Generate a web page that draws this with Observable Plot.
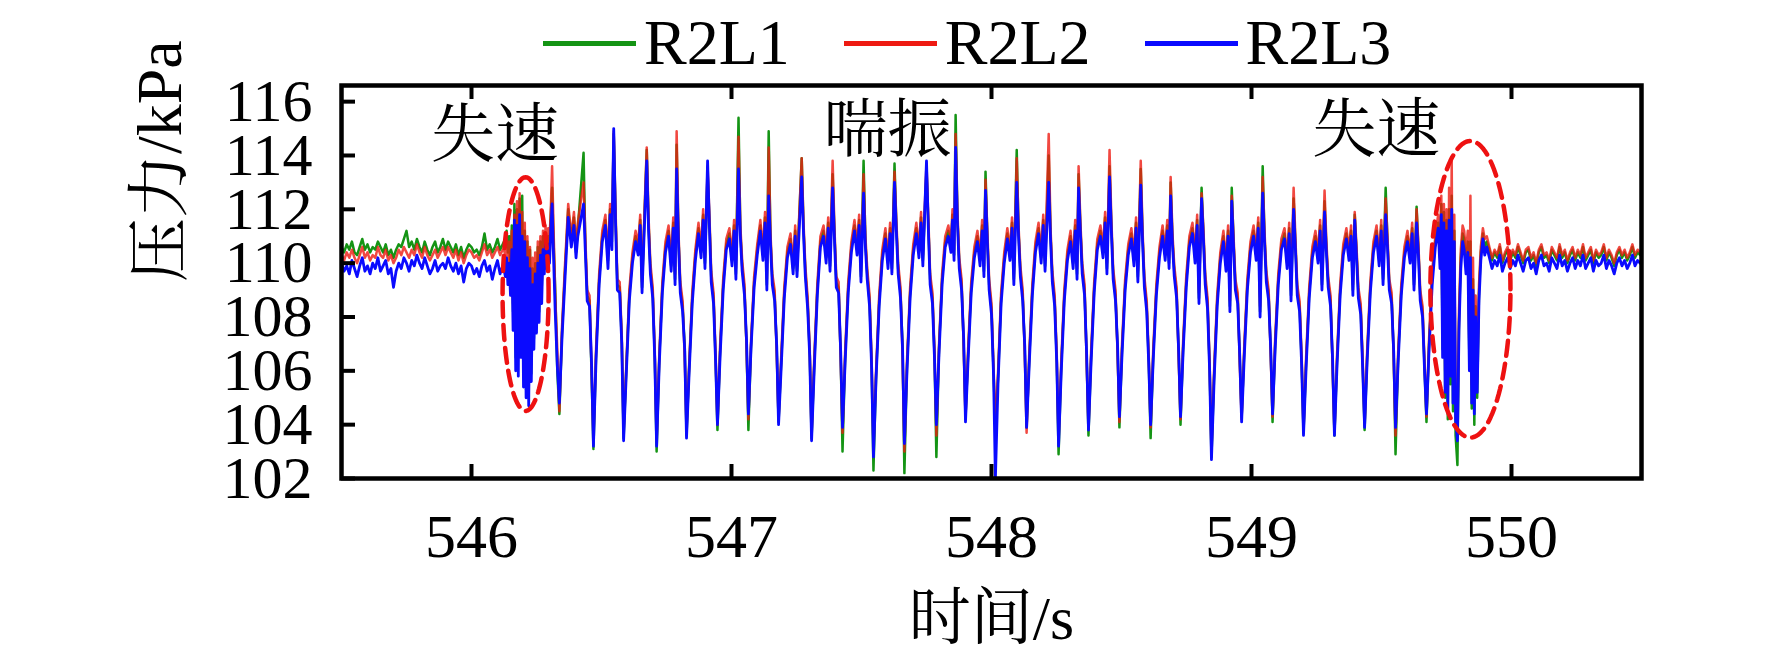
<!DOCTYPE html>
<html>
<head>
<meta charset="utf-8">
<script src="https://cdn.jsdelivr.net/npm/d3@7"></script>
<script src="https://cdn.jsdelivr.net/npm/@observablehq/plot@0.6"></script>
<style>
  html, body { margin: 0; padding: 0; background: #fff; }
  body { width: 1772px; height: 664px; overflow: hidden; font-family: 'Liberation Serif', 'Times New Roman', 'Noto Serif CJK SC', 'Noto Sans CJK SC', serif; }
  #legend { position: relative; height: 78px; }
  #legend .row { position: absolute; left: 543px; top: 11px; height: 64px; display: flex; align-items: center; line-height: 64px; font-size: 64px; }
  #legend .sw { display: inline-block; width: 93px; height: 5px; margin-right: 8px; }
  #legend .lab { margin-right: 54px; }
  #chart svg { overflow: visible; }
</style>
</head>
<body>
<div id="legend"></div>
<div id="chart"></div>
<script>
// ---- series names / colours ----
const seriesNames = ["R2L1", "R2L2", "R2L3"];
const seriesColors = ["#149414", "#ee1a12", "#0a0aff"];

// ---- axis ticks ----
const xTicks = [546, 547, 548, 549, 550];
const yTicks = [102, 104, 106, 108, 110, 112, 114, 116];

// ---- annotations ----
const noteText = ["失速", "喘振", "失速"];
const noteX = [546.09, 547.60, 549.48];
const noteY = [114.73, 114.91, 114.91];

// stall ellipses: centre and half-axes (data units)
const ellCx = [546.208, 549.842];
const ellCy = [108.85, 109.03];
const ellRx = [0.0885, 0.154];
const ellRy = [4.34, 5.51];

// ---- time (s) ----
const time = [
// pre-stall baseline
545.50,545.51,545.52,545.53,545.54,545.55,545.56,545.57,545.58,545.59,
545.60,545.61,545.62,545.63,545.64,545.65,545.66,545.67,545.68,545.69,
545.70,545.71,545.72,545.73,545.74,545.75,545.76,545.77,545.78,545.79,
545.80,545.81,545.82,545.83,545.84,545.85,545.86,545.87,545.88,545.89,
545.90,545.91,545.92,545.93,545.94,545.95,545.96,545.97,545.98,545.99,
546.00,546.01,546.02,546.03,546.04,546.05,546.06,546.07,546.08,546.09,
546.10,546.11,546.12,
// left stall
546.125,546.130,546.135,546.140,546.145,546.150,546.155,546.160,546.165,546.170,
546.175,546.180,546.185,546.190,546.195,546.200,546.205,546.210,546.215,546.220,
546.225,546.230,546.235,546.240,546.245,546.250,546.255,546.260,546.265,546.270,
546.275,546.280,546.285,546.290,546.295,546.300,546.305,546.310,546.315,546.322,
546.330,
// surge cycles
546.338,546.348,546.360,546.372,546.384,546.394,546.402,546.409,546.431,546.438,546.445,546.454,546.462,
546.469,546.479,546.491,546.503,546.515,546.525,546.533,546.540,546.547,546.554,546.561,546.570,546.578,
546.585,546.595,546.607,546.619,546.631,546.641,546.649,546.656,546.674,546.681,546.688,546.697,546.705,
546.712,546.722,546.734,546.746,546.758,546.768,546.776,546.783,546.789,546.796,546.803,546.812,546.820,
546.827,546.837,546.849,546.861,546.873,546.883,546.891,546.898,546.908,546.915,546.922,546.931,546.939,
546.946,546.956,546.968,546.980,546.992,547.002,547.010,547.017,547.027,547.034,547.041,547.050,547.058,
547.065,547.075,547.087,547.099,547.111,547.121,547.129,547.136,547.143,547.150,547.157,547.166,547.174,
547.181,547.191,547.203,547.215,547.227,547.237,547.245,547.252,547.270,547.277,547.284,547.293,547.301,
547.308,547.318,547.330,547.342,547.354,547.364,547.372,547.379,547.389,547.396,547.403,547.412,547.420,
547.427,547.437,547.449,547.461,547.473,547.483,547.491,547.498,547.508,547.515,547.522,547.531,547.539,
547.546,547.556,547.568,547.580,547.592,547.602,547.610,547.617,547.627,547.634,547.641,547.650,547.658,
547.665,547.675,547.687,547.699,547.711,547.721,547.729,547.736,547.750,547.757,547.764,547.773,547.781,
547.788,547.798,547.810,547.822,547.834,547.844,547.850,547.856,547.862,547.869,547.876,547.885,547.893,
547.900,547.910,547.922,547.934,547.946,547.956,547.964,547.971,547.977,547.984,547.991,548.000,548.008,
548.015,548.025,548.037,548.049,548.061,548.071,548.079,548.086,548.097,548.104,548.111,548.120,548.128,
548.135,548.145,548.157,548.169,548.181,548.191,548.199,548.206,548.220,548.227,548.234,548.243,548.251,
548.258,548.268,548.280,548.292,548.304,548.314,548.322,548.329,548.335,548.342,548.349,548.358,548.366,
548.373,548.383,548.395,548.407,548.419,548.429,548.437,548.444,548.454,548.461,548.468,548.477,548.485,
548.492,548.502,548.514,548.526,548.538,548.548,548.556,548.563,548.574,548.581,548.588,548.597,548.605,
548.612,548.622,548.634,548.646,548.658,548.668,548.676,548.683,548.689,548.696,548.703,548.712,548.720,
548.727,548.737,548.749,548.761,548.773,548.783,548.791,548.798,548.808,548.815,548.822,548.831,548.839,
548.846,548.856,548.868,548.880,548.892,548.902,548.910,548.917,548.924,548.931,548.938,548.947,548.955,
548.962,548.972,548.984,548.996,549.008,549.018,549.026,549.033,549.043,549.050,549.057,549.066,549.074,
549.081,549.091,549.103,549.115,549.127,549.137,549.145,549.152,549.162,549.169,549.176,549.185,549.193,
549.200,549.210,549.222,549.234,549.246,549.256,549.264,549.271,549.281,549.288,549.295,549.304,549.312,
549.319,549.329,549.341,549.353,549.365,549.375,549.383,549.390,549.397,549.404,549.411,549.420,549.428,
549.435,549.445,549.457,549.469,549.481,549.491,549.499,549.506,549.516,549.523,549.530,549.539,549.547,
549.554,549.564,549.576,549.588,549.600,549.610,549.618,549.625,549.635,549.642,549.649,549.658,549.666,
// right stall
549.673,549.683,549.695,549.707,549.718,549.725,549.730,549.735,549.740,549.745,
549.750,549.755,549.760,549.765,549.770,549.775,549.780,549.785,549.792,549.798,
549.805,549.812,549.818,549.825,549.832,549.838,549.842,549.847,549.852,549.857,
549.862,549.868,549.875,549.882,549.890,549.897,549.905,
// post baseline
549.915,549.925,549.935,549.945,549.955,549.965,549.975,549.985,549.995,550.005,
550.015,550.025,550.035,550.045,550.055,550.065,550.075,550.085,550.095,550.105,
550.115,550.125,550.135,550.145,550.155,550.165,550.175,550.185,550.195,550.205,
550.215,550.225,550.235,550.245,550.255,550.265,550.275,550.285,550.295,550.305,
550.315,550.325,550.335,550.345,550.355,550.365,550.375,550.385,550.395,550.405,
550.415,550.425,550.435,550.445,550.455,550.465,550.475,550.485,550.495
];

// ---- R2L1 (kPa) ----
const r2l1 = [
110.6,110.4,110.7,110.5,110.8,110.4,110.3,110.6,110.9,110.5,
110.7,110.4,110.6,110.5,110.8,110.6,110.4,110.7,110.3,110.5,
110.2,110.5,110.7,110.6,110.9,111.2,110.6,110.8,110.5,110.9,
110.6,110.4,110.8,110.5,110.3,110.6,110.8,110.4,110.6,110.9,
110.5,110.8,110.6,110.4,110.7,110.3,110.6,110.2,110.5,110.7,
110.6,110.4,110.5,110.3,110.6,111.1,110.5,110.7,110.4,110.6,
110.9,110.5,110.7,
110.8,110.6,111.2,110.4,111.0,109.6,111.4,108.2,112.2,106.5,
112.0,107.0,112.4,106.8,112.5,105.8,111.2,105.3,110.8,105.5,
110.5,105.9,109.8,107.2,110.0,107.8,110.6,108.2,110.8,109.0,
111.0,110.0,111.1,110.3,111.0,110.6,111.8,112.8,111.0,109.0,
106.0,
104.4,107.4,109.8,112.0,110.9,111.7,110.4,111.3,114.1,110.6,108.8,108.6,105.8,
103.1,106.6,109.4,111.0,111.6,110.1,112.0,110.8,114.8,111.8,109.2,109.1,107.1,
103.5,106.0,108.8,110.2,111.0,110.5,111.6,109.1,114.2,111.5,109.8,108.9,106.5,
103.0,106.4,109.1,110.6,111.2,109.9,111.5,109.4,114.4,111.0,109.1,108.4,106.9,
103.6,106.1,108.7,110.3,111.3,110.4,111.8,110.0,113.4,111.6,109.5,108.7,106.4,
103.8,106.7,109.2,110.7,111.1,110.1,111.4,109.6,115.4,111.2,109.9,109.0,106.9,
103.8,106.9,109.3,110.5,111.4,110.3,111.7,109.2,114.9,110.9,109.4,108.8,106.8,
104.1,106.3,108.9,110.4,110.9,109.8,111.2,109.7,113.9,111.3,109.7,108.5,106.6,
103.5,106.2,109.0,110.8,111.2,110.2,111.5,109.9,113.3,111.1,109.3,109.1,106.5,
103.0,106.5,109.1,110.6,111.4,110.5,111.6,109.5,113.8,110.8,109.6,108.6,106.2,
102.3,105.8,108.6,110.3,111.1,110.0,111.3,109.8,113.7,111.4,109.8,108.9,106.9,
102.2,106.2,108.9,110.5,111.3,110.4,111.7,110.1,113.5,111.5,109.4,108.7,106.5,
102.8,106.8,109.4,110.8,111.2,110.6,111.8,110.3,115.5,111.7,110.0,109.2,107.0,
104.3,106.6,109.1,110.4,111.0,110.1,111.4,109.7,113.4,111.0,109.2,108.3,105.9,
103.9,105.7,108.7,110.2,111.1,110.3,111.5,109.4,114.2,111.2,109.7,108.8,106.8,
103.9,106.4,109.0,110.6,111.3,110.2,111.6,109.9,114.0,111.1,109.5,108.6,106.4,
102.9,106.1,108.8,110.3,111.0,110.0,111.4,109.6,113.3,111.3,109.8,109.0,106.5,
103.6,106.5,109.1,110.7,111.2,110.4,111.7,109.8,113.6,111.4,109.6,108.8,106.8,
103.9,106.8,109.2,110.5,111.1,110.1,111.5,109.5,113.5,111.0,109.3,108.4,106.3,
103.5,106.6,109.0,110.4,111.2,110.3,111.4,110.0,113.0,110.9,109.7,108.9,106.6,
104.0,106.9,109.3,110.8,111.3,110.2,111.6,108.7,112.8,111.1,109.4,108.5,106.1,
102.8,105.8,108.6,110.2,111.0,109.9,111.2,108.4,112.8,110.8,109.2,108.7,106.4,
104.3,106.7,109.2,110.6,111.2,110.3,111.5,108.2,113.6,111.0,109.5,108.8,106.7,
104.1,107.0,109.4,110.7,111.1,110.0,111.3,108.8,112.4,110.7,109.0,108.4,106.3,
103.7,106.3,108.9,110.4,111.0,110.2,111.4,109.2,112.3,110.6,109.3,108.6,106.2,
103.6,106.4,109.0,110.5,111.1,110.3,111.2,109.0,111.8,110.4,108.9,108.3,106.1,
103.8,106.6,109.1,110.6,111.2,110.1,111.4,109.4,112.8,110.8,109.2,108.7,106.6,
102.9,106.5,109.0,110.4,111.0,110.2,111.3,109.2,112.1,110.5,108.8,108.2,106.0,
104.1,107.0,109.5,110.8,111.5,110.2,112.2,106.8,111.9,105.0,
111.6,104.2,112.0,105.5,112.5,104.5,111.2,103.6,102.5,107.8,
110.2,111.1,110.9,110.0,110.8,106.4,110.8,104.6,109.4,104.0,
108.4,105.0,108.9,110.4,111.1,110.6,110.8,
110.5,110.1,110.4,110.2,110.6,110.0,110.3,110.5,110.1,110.4,
110.2,110.6,110.3,110.0,110.4,110.5,110.1,110.3,109.9,110.4,
110.6,110.2,110.3,110.0,110.5,110.3,110.1,110.6,110.2,110.4,
110.0,110.3,110.5,110.1,110.4,110.2,110.6,110.1,110.3,110.5,
110.0,110.4,110.2,110.3,110.6,110.1,110.4,110.2,109.9,110.3,
110.5,110.2,110.4,110.1,110.3,110.6,110.2,110.4,110.3
];

// ---- R2L2 (kPa) ----
const r2l2 = [
110.3,110.1,110.4,110.2,110.5,110.2,110.0,110.3,110.6,110.2,
110.4,110.1,110.3,110.2,110.6,110.3,110.2,110.5,110.1,110.3,
110.0,110.2,110.5,110.3,110.6,110.4,110.2,110.5,110.3,110.7,
110.4,110.2,110.6,110.3,110.1,110.3,110.5,110.2,110.4,110.6,
110.3,110.6,110.4,110.2,110.5,110.1,110.4,110.0,110.3,110.5,
110.4,110.2,110.3,110.1,110.4,110.7,110.3,110.5,110.2,110.4,
110.6,110.3,110.5,
110.5,110.3,110.9,110.0,110.8,109.8,111.2,108.5,111.8,106.8,
112.3,106.5,112.6,107.2,111.9,106.2,111.5,105.6,111.0,105.0,
110.6,106.2,110.2,107.5,110.4,108.0,110.8,108.6,111.0,109.2,
111.2,110.2,111.4,110.6,111.3,110.8,112.0,113.6,111.5,108.8,
106.8,
104.5,107.6,110.0,112.2,111.0,111.9,110.6,111.5,113.0,110.9,109.0,108.8,106.0,
103.5,106.8,109.6,111.2,111.8,110.3,112.2,111.0,114.9,112.0,109.4,109.3,107.3,
103.7,106.1,109.0,110.4,111.2,110.7,111.8,109.3,114.3,111.7,110.0,109.1,106.7,
103.4,106.5,109.3,110.8,111.4,110.1,111.7,109.6,114.9,111.2,109.3,108.6,106.5,
103.8,106.2,108.9,110.5,111.5,110.6,112.0,110.2,113.6,111.8,109.7,108.9,106.6,
104.0,106.9,109.4,110.9,111.3,110.3,111.6,109.8,114.7,111.4,110.1,109.2,106.8,
104.2,107.1,109.5,110.7,111.6,110.5,111.9,109.4,114.3,111.1,109.6,109.0,106.6,
104.2,106.5,109.1,110.6,111.1,110.0,111.4,109.9,113.9,111.5,109.9,108.7,106.8,
103.6,106.4,109.2,111.0,111.4,110.4,111.7,110.1,113.8,111.3,109.5,109.3,106.4,
103.7,106.7,109.3,110.8,111.6,110.7,111.8,109.7,113.3,111.0,109.8,108.8,106.4,
103.2,106.0,108.8,110.5,111.3,110.2,111.5,110.0,113.4,111.6,110.0,109.1,106.5,
103.0,106.4,109.1,110.7,111.5,110.6,111.9,110.3,113.7,111.7,109.6,108.9,106.7,
103.6,106.9,109.6,111.0,111.4,110.8,112.0,110.5,114.8,111.9,110.2,109.4,106.9,
104.2,106.8,109.3,110.6,111.2,110.3,111.6,109.9,113.1,111.2,109.4,108.5,106.1,
104.0,105.9,108.9,110.4,111.3,110.5,111.7,109.6,113.9,111.4,109.9,109.0,106.6,
103.7,106.6,109.2,110.8,111.5,110.4,111.8,110.1,114.8,111.3,109.7,108.8,106.6,
103.4,106.3,109.0,110.5,111.2,110.2,111.6,109.8,113.6,111.5,110.0,109.2,106.3,
103.9,106.7,109.3,110.9,111.4,110.6,111.9,110.0,114.2,111.6,109.8,109.0,106.6,
104.1,107.0,109.4,110.7,111.3,110.3,111.7,109.7,113.8,111.2,109.5,108.6,106.5,
103.9,106.8,109.2,110.6,111.4,110.5,111.6,110.2,113.2,111.1,109.9,109.1,106.4,
104.2,107.1,109.5,111.0,111.5,110.4,111.8,108.9,112.6,111.3,109.6,108.7,106.3,
103.0,106.0,108.8,110.4,111.2,110.1,111.4,108.6,112.5,111.0,109.4,108.9,106.2,
104.2,106.9,109.4,110.8,111.4,110.5,111.7,108.4,113.2,111.2,109.7,109.0,106.5,
104.3,107.2,109.6,110.9,111.3,110.2,111.5,109.0,112.8,110.9,109.2,108.6,106.5,
103.8,106.5,109.1,110.6,111.2,110.4,111.6,109.4,112.7,110.8,109.5,108.8,106.1,
103.7,106.6,109.2,110.7,111.3,110.5,111.4,109.2,111.9,110.6,109.1,108.5,106.3,
104.0,106.8,109.3,110.8,111.4,110.3,111.6,109.6,112.4,111.0,109.4,108.9,106.4,
103.6,106.7,109.2,110.6,111.2,110.4,111.5,109.4,112.0,110.7,109.0,108.4,106.2,
104.3,107.2,109.7,111.0,111.8,110.5,112.5,107.2,112.2,106.0,
112.0,105.4,112.8,106.5,113.8,105.8,111.8,104.8,104.0,108.2,
110.5,111.4,111.2,110.4,111.2,106.8,112.5,105.5,110.2,105.0,
108.8,105.8,109.2,110.6,111.3,110.9,111.0,
110.6,110.2,110.5,110.3,110.7,110.1,110.4,110.6,110.2,110.5,
110.3,110.7,110.4,110.1,110.5,110.6,110.2,110.4,110.0,110.5,
110.7,110.3,110.4,110.1,110.6,110.4,110.2,110.7,110.3,110.5,
110.1,110.4,110.6,110.2,110.5,110.3,110.7,110.2,110.4,110.6,
110.1,110.5,110.3,110.4,110.7,110.2,110.5,110.3,110.0,110.4,
110.6,110.3,110.5,110.2,110.4,110.7,110.3,110.5,110.4
];

// ---- R2L3 (kPa) ----
const r2l3 = [
110.0,109.7,109.9,109.6,110.1,109.8,109.5,109.9,110.2,109.7,
109.9,109.6,110.0,109.8,110.2,109.7,109.9,110.1,109.6,109.8,
109.1,109.7,110.0,109.8,110.2,110.0,109.7,110.1,109.9,110.3,
110.0,109.8,110.2,109.9,109.6,109.8,110.1,109.7,109.9,110.0,
109.8,110.2,109.9,109.7,110.0,109.6,109.9,109.3,109.8,110.0,
109.9,109.6,109.8,109.5,109.9,110.1,109.7,109.9,109.4,109.8,
110.1,109.6,109.9,
109.8,109.5,110.2,109.2,110.0,108.8,110.5,107.5,111.6,106.0,
111.4,105.8,111.8,106.5,111.0,105.4,110.8,105.0,110.2,104.7,
109.8,105.6,109.2,106.8,109.6,107.4,110.0,107.8,110.3,108.5,
110.5,109.6,110.8,109.8,110.7,110.0,111.2,112.2,110.4,108.2,
106.2,
104.8,107.2,109.5,111.7,110.6,111.4,110.2,111.0,112.2,110.4,108.6,108.4,106.2,
103.2,106.4,109.2,110.8,111.4,109.8,111.8,110.5,115.0,111.5,109.0,108.9,107.0,
103.4,105.8,108.6,110.0,110.8,110.3,111.4,108.9,113.8,111.2,109.6,108.7,106.4,
103.2,106.2,108.9,110.4,111.0,109.7,111.3,109.2,113.5,110.8,108.9,108.2,106.8,
103.5,105.9,108.5,110.1,111.1,110.2,111.6,109.8,113.8,111.4,109.3,108.5,106.3,
104.0,106.5,109.0,110.5,110.9,109.9,111.2,109.4,113.5,111.0,109.7,108.8,107.1,
104.4,106.8,109.1,110.3,111.2,110.1,111.5,109.0,112.5,110.7,109.2,108.6,106.9,
104.0,106.1,108.7,110.2,110.7,109.6,111.0,109.5,113.2,111.1,109.5,108.3,106.5,
103.4,106.0,108.8,110.6,111.0,110.0,111.3,109.7,112.8,110.9,109.1,108.9,106.7,
103.9,106.3,108.9,110.4,111.2,110.3,111.4,109.3,112.6,110.6,109.4,108.4,106.1,
102.8,105.7,108.4,110.1,110.9,109.8,111.1,109.6,113.0,111.2,109.6,108.7,106.8,
103.3,106.0,108.7,110.3,111.1,110.2,111.5,109.9,113.8,111.3,109.2,108.5,106.4,
104.0,106.6,109.2,110.6,111.0,110.4,111.6,110.1,114.3,111.5,109.8,109.0,107.2,
104.1,106.4,108.9,110.2,110.8,109.9,111.2,109.5,112.7,110.8,109.0,108.1,105.8,
102.0,105.5,108.5,110.0,110.9,110.1,111.3,109.2,113.0,111.0,109.5,108.6,106.9,
103.9,106.2,108.8,110.4,111.1,110.0,111.4,109.7,113.0,110.9,109.3,108.4,106.3,
103.2,105.9,108.6,110.1,110.8,109.8,111.2,109.4,112.8,111.1,109.6,108.8,106.6,
103.8,106.3,108.9,110.5,111.0,110.2,111.5,109.6,113.2,111.2,109.4,108.6,106.9,
104.3,106.6,109.0,110.3,110.9,109.9,111.3,109.3,112.9,110.8,109.1,108.2,106.2,
104.0,106.4,108.8,110.2,111.0,110.1,111.2,109.8,112.5,110.7,109.5,108.7,106.7,
104.3,106.7,109.1,110.6,111.1,110.0,111.4,108.5,112.4,110.9,109.2,108.3,106.0,
102.7,105.6,108.4,110.0,110.8,109.7,111.0,108.2,112.3,110.6,109.0,108.5,106.5,
104.1,106.5,109.0,110.4,111.0,110.1,111.3,108.0,112.6,110.8,109.3,108.6,106.8,
104.4,106.8,109.2,110.5,110.9,109.8,111.1,108.6,112.0,110.5,108.8,108.2,106.2,
103.6,106.1,108.7,110.2,110.8,110.0,111.2,109.0,111.9,110.4,109.1,108.4,106.4,
103.6,106.2,108.8,110.3,110.9,110.1,111.0,108.8,111.6,110.2,108.7,108.1,106.0,
103.9,106.4,108.9,110.4,111.0,109.9,111.2,109.2,111.8,110.6,109.0,108.5,106.7,
103.9,106.3,108.8,110.2,110.8,110.0,111.1,109.0,111.5,110.3,108.6,108.0,105.9,
104.4,106.8,109.2,110.6,111.3,109.8,111.8,106.5,111.5,105.2,
111.2,104.6,111.6,105.8,112.0,104.8,110.8,104.2,103.4,107.5,
109.8,110.8,110.5,109.6,110.4,106.0,110.2,104.8,109.0,104.4,
108.0,105.2,108.6,110.1,110.9,110.3,110.6,
110.2,109.8,110.1,109.9,110.3,109.7,110.0,110.2,109.8,110.1,
109.9,110.3,110.0,109.7,110.1,110.2,109.8,110.0,109.6,110.1,
110.3,109.9,110.0,109.7,110.2,110.0,109.8,110.3,109.9,110.1,
109.7,110.0,110.2,109.8,110.1,109.9,110.3,109.8,110.0,110.2,
109.7,110.1,109.9,110.0,110.3,109.8,110.1,109.9,109.6,110.0,
110.2,109.9,110.1,109.8,110.0,110.3,109.9,110.1,110.0
];

// ---- build table ----
const seriesValues = [r2l1, r2l2, r2l3];
const n = Math.min(time.length, r2l1.length, r2l2.length, r2l3.length);
if (time.length !== r2l1.length || time.length !== r2l2.length || time.length !== r2l3.length) {
  console.error("length mismatch", time.length, r2l1.length, r2l2.length, r2l3.length);
}
const rows = seriesNames.map((name, s) =>
  d3.range(n).map(i => ({series: name, t: time[i], p: seriesValues[s][i]}))
);

const notes = noteText.map((text, i) => ({text, x: noteX[i], y: noteY[i]}));
const ellipses = ellCx.map((cx, k) =>
  d3.range(0, 361, 3).map(a => {
    const r = a * Math.PI / 180;
    return {k, x: cx + ellRx[k] * Math.cos(r), y: ellCy[k] + ellRy[k] * Math.sin(r)};
  })
);

// ---- legend ----
const legend = document.getElementById("legend");
const row = document.createElement("div");
row.className = "row";
seriesNames.forEach((name, i) => {
  const sw = document.createElement("span");
  sw.className = "sw";
  sw.style.background = seriesColors[i];
  const lab = document.createElement("span");
  lab.className = "lab";
  lab.textContent = name;
  row.appendChild(sw);
  row.appendChild(lab);
});
legend.appendChild(row);

// ---- chart ----
const W = 1772, H = 586;
const mL = 341, mR = 131, mT = 7, mB = 186;
const plotW = W - mL - mR, plotH = H - mT - mB;
const tick = 14;
const fontStack = "'Liberation Serif', 'Times New Roman', 'Noto Serif CJK SC', 'Noto Sans CJK SC', serif";

const chart = Plot.plot({
  width: W,
  height: H,
  marginLeft: mL,
  marginRight: mR,
  marginTop: mT,
  marginBottom: mB,
  style: {fontFamily: fontStack, fontSize: "62px", background: "#fff", color: "#000", overflow: "visible"},
  x: {domain: [545.5, 550.5]},
  y: {domain: [102, 116.6]},
  marks: [
    Plot.line(rows[0], {x: "t", y: "p", stroke: seriesColors[0], strokeWidth: 2.5, clip: true}),
    Plot.line(rows[1], {x: "t", y: "p", stroke: seriesColors[1], strokeOpacity: 0.8, strokeWidth: 2.5, clip: true}),
    Plot.line(rows[2], {x: "t", y: "p", stroke: seriesColors[2], strokeWidth: 2.8, clip: true}),
    ...ellipses.map(e => Plot.line(e, {x: "x", y: "y", stroke: "#ee1111", strokeWidth: 4.5, strokeDasharray: "15 8"})),
    Plot.text(notes, {x: "x", y: "y", text: "text", fontSize: 64, fill: "#000"}),
    Plot.frame({stroke: "#000", strokeWidth: 4.5}),
    Plot.tickX(xTicks, {x: d => d, insetTop: plotH - tick, stroke: "#000", strokeWidth: 4}),
    Plot.tickX(xTicks, {x: d => d, insetBottom: plotH - tick, stroke: "#000", strokeWidth: 4}),
    Plot.tickY(yTicks, {y: d => d, insetRight: plotW - tick, stroke: "#000", strokeWidth: 4}),
    Plot.axisX({ticks: xTicks, tickSize: 0, tickPadding: 34, fontSize: 62, tickFormat: d => String(d), label: null}),
    Plot.axisY({ticks: yTicks, tickSize: 0, tickPadding: 29, fontSize: 60, tickFormat: d => String(d), label: null}),
    Plot.text(["时间/s"], {frameAnchor: "bottom", dy: 160, fontSize: 62, fill: "#000"}),
    Plot.text(["压力/kPa"], {frameAnchor: "left", dx: -181, rotate: -90, fontSize: 64, fill: "#000"})
  ]
});
document.getElementById("chart").appendChild(chart);
</script>
</body>
</html>
